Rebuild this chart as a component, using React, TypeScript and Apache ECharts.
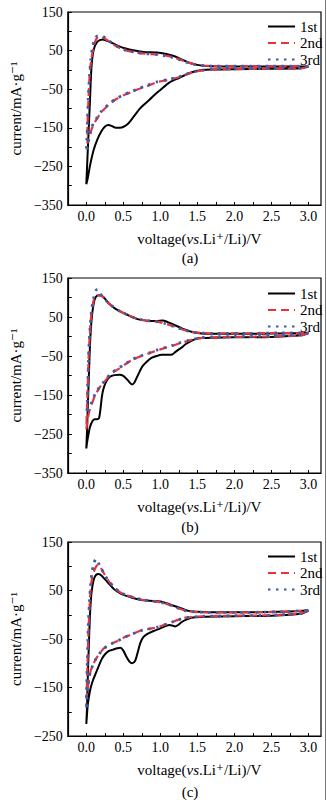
import React, { useEffect, useRef } from "react";
import * as echarts from "echarts";

const FONT = '"Liberation Serif", "Times New Roman", "DejaVu Serif", serif';

const seriesNames = ["1st", "2nd", "3rd"];
const xLabelValues = [0, 0.5, 1.0, 1.5, 2.0, 2.5, 3.0];
const xTickValues = [0, 0.25, 0.5, 0.75, 1.0, 1.25, 1.5, 1.75, 2.0, 2.25, 2.5, 2.75, 3.0];
const yLabelsAB = [-350, -250, -150, -50, 50, 150];
const yTicksAB = [-300, -250, -200, -150, -100, -50, 0, 50, 100];
const yLabelsC = [-250, -150, -50, 50, 150];
const yTicksC = [-200, -150, -100, -50, 0, 50, 100];
const subLabels = ["(a)", "(b)", "(c)"];

// Panel (a)
const cvA1 = [
  [3.0, 9], [2.9, 4], [2.5, 3], [2.0, 2], [1.7, 1], [1.55, -1], [1.45, -5], [1.35, -12], [1.25, -21],
  [1.12, -33], [1.0, -52], [0.92, -65], [0.85, -78], [0.73, -99], [0.64, -121], [0.56, -140], [0.48, -149],
  [0.40, -150], [0.34, -145], [0.30, -143], [0.25, -147], [0.20, -160], [0.15, -180], [0.10, -207],
  [0.05, -248], [0.02, -280], [0.0, -296],
  [0.015, -230], [0.03, -164], [0.05, -78], [0.07, 8], [0.10, 52], [0.15, 73], [0.22, 79], [0.30, 74],
  [0.40, 65], [0.52, 56], [0.65, 50], [0.8, 46], [0.95, 45], [1.08, 41], [1.18, 36], [1.28, 28], [1.4, 18],
  [1.5, 13], [1.62, 10], [1.8, 9], [2.2, 9], [2.6, 9], [3.0, 9],
];
const cvA2 = [
  [3.0, 9], [2.9, 4], [2.5, 3], [2.0, 2], [1.7, 1], [1.55, -2], [1.45, -6], [1.35, -12], [1.25, -19],
  [1.1, -26], [0.95, -32], [0.82, -42], [0.7, -50], [0.6, -58], [0.5, -66], [0.4, -76], [0.32, -88],
  [0.25, -100], [0.2, -110], [0.15, -125], [0.1, -140], [0.07, -155], [0.05, -168], [0.03, -182], [0.015, -190],
  [0.015, -150], [0.025, -100], [0.035, -50], [0.05, 0], [0.07, 30], [0.1, 60], [0.13, 78], [0.17, 87],
  [0.22, 84], [0.3, 75], [0.4, 62], [0.52, 51], [0.65, 46], [0.8, 42], [0.95, 40], [1.05, 38], [1.15, 34],
  [1.25, 28], [1.35, 21], [1.45, 15], [1.55, 12], [1.7, 10], [2.2, 10], [2.6, 10], [3.0, 9],
];
const cvA3 = [
  [3.0, 9], [2.9, 5], [2.5, 4], [2.0, 3], [1.7, 2], [1.55, -1], [1.45, -5], [1.35, -11], [1.25, -18],
  [1.1, -25], [0.95, -31], [0.82, -40], [0.7, -49], [0.6, -57], [0.5, -65], [0.4, -75], [0.32, -86],
  [0.25, -98], [0.2, -108], [0.15, -122], [0.1, -137], [0.07, -150], [0.05, -165], [0.03, -185], [0.01, -205],
  [0.0, -212],
  [0.01, -170], [0.02, -110], [0.03, -60], [0.045, -10], [0.06, 25], [0.08, 55], [0.11, 78], [0.15, 88],
  [0.2, 88], [0.25, 84], [0.3, 76], [0.4, 63], [0.52, 52], [0.65, 46], [0.8, 42], [0.95, 40], [1.05, 37],
  [1.15, 33], [1.25, 27], [1.35, 20], [1.45, 15], [1.55, 12], [1.7, 10], [2.2, 10], [2.6, 10], [3.0, 9],
];

// Panel (b)
const cvB1 = [
  [3.0, 9], [2.9, 3], [2.5, -1], [2.0, -2], [1.7, -3], [1.55, -4], [1.48, -6], [1.4, -13], [1.34, -20],
  [1.29, -28], [1.25, -33], [1.2, -40], [1.16, -46], [1.1, -47], [1.02, -47], [0.95, -50], [0.88, -55],
  [0.82, -64], [0.76, -76], [0.72, -90], [0.68, -106], [0.65, -118], [0.62, -123], [0.59, -119], [0.55, -110],
  [0.5, -101], [0.45, -98], [0.38, -99], [0.32, -103], [0.27, -115], [0.23, -135], [0.21, -155], [0.19, -188],
  [0.17, -210], [0.14, -212], [0.11, -212], [0.08, -218], [0.05, -232], [0.03, -250], [0.01, -272], [0.0, -287],
  [0.01, -240], [0.02, -180], [0.035, -100], [0.05, -20], [0.07, 40], [0.1, 85], [0.13, 102], [0.17, 106],
  [0.21, 104], [0.26, 95], [0.3, 85], [0.4, 70], [0.52, 59], [0.65, 47], [0.75, 42], [0.85, 40], [0.95, 40],
  [1.03, 41], [1.1, 37], [1.16, 32], [1.22, 27], [1.29, 21], [1.36, 16], [1.42, 12], [1.5, 9], [1.6, 7],
  [1.8, 7], [2.2, 7], [2.6, 8], [3.0, 9],
];
const cvB2 = [
  [3.0, 9], [2.9, 3], [2.5, 0], [2.0, -1], [1.7, -2], [1.55, -4], [1.45, -8], [1.38, -11], [1.25, -18],
  [1.16, -24], [1.05, -30], [0.95, -36], [0.85, -43], [0.73, -51], [0.62, -60], [0.52, -72], [0.42, -85],
  [0.33, -96], [0.27, -110], [0.22, -122], [0.19, -128], [0.15, -140], [0.12, -150], [0.09, -165],
  [0.06, -180], [0.04, -192], [0.02, -210], [0.0, -238],
  [0.01, -180], [0.02, -120], [0.03, -60], [0.045, 0], [0.06, 40], [0.08, 75], [0.11, 98], [0.15, 105],
  [0.19, 106], [0.23, 100], [0.28, 90], [0.35, 78], [0.45, 65], [0.55, 56], [0.65, 48], [0.75, 43],
  [0.85, 40], [0.95, 38], [1.05, 34], [1.15, 28], [1.25, 21], [1.35, 15], [1.45, 11], [1.55, 9], [1.7, 8],
  [2.2, 8], [2.6, 9], [3.0, 9],
];
const cvB3 = [
  [3.0, 9], [2.9, 4], [2.5, 1], [2.0, 0], [1.7, -1], [1.55, -3], [1.45, -7], [1.38, -10], [1.25, -17],
  [1.16, -23], [1.05, -29], [0.95, -35], [0.85, -42], [0.73, -50], [0.62, -59], [0.52, -71], [0.42, -83],
  [0.33, -95], [0.27, -108], [0.22, -120], [0.19, -127], [0.15, -138], [0.12, -148], [0.09, -160],
  [0.06, -175], [0.04, -185], [0.02, -195], [0.01, -198],
  [0.015, -150], [0.025, -90], [0.035, -30], [0.05, 20], [0.07, 65], [0.1, 100], [0.13, 118], [0.15, 121],
  [0.18, 112], [0.22, 102], [0.28, 90], [0.35, 78], [0.45, 65], [0.55, 56], [0.65, 48], [0.75, 43],
  [0.85, 40], [0.95, 38], [1.05, 34], [1.15, 28], [1.25, 21], [1.35, 15], [1.45, 11], [1.55, 9], [1.7, 8],
  [2.2, 8], [2.6, 9], [3.0, 9],
];

// Panel (c)
const cvC1 = [
  [3.0, 9], [2.9, 2], [2.5, -2], [2.0, -3], [1.6, -4], [1.48, -5], [1.42, -6], [1.35, -10], [1.29, -15],
  [1.24, -21], [1.2, -24], [1.16, -22], [1.12, -21], [1.08, -23], [1.0, -28], [0.9, -34], [0.82, -40],
  [0.77, -46], [0.73, -58], [0.69, -80], [0.66, -95], [0.62, -100], [0.58, -96], [0.54, -86], [0.5, -74],
  [0.46, -68], [0.42, -69], [0.36, -72], [0.3, -75], [0.25, -82], [0.21, -91], [0.17, -105], [0.13, -120],
  [0.09, -135], [0.06, -150], [0.04, -165], [0.02, -185], [0.005, -215], [0.0, -225],
  [0.01, -190], [0.02, -130], [0.035, -60], [0.05, 0], [0.07, 45], [0.1, 72], [0.13, 82], [0.17, 84],
  [0.21, 80], [0.26, 72], [0.3, 65], [0.38, 52], [0.46, 44], [0.52, 40], [0.62, 35], [0.73, 31], [0.85, 29],
  [0.95, 28], [1.02, 27], [1.08, 24], [1.15, 20], [1.25, 15], [1.32, 11], [1.38, 8], [1.5, 6], [1.7, 5],
  [2.2, 5], [2.6, 6], [3.0, 9],
];
const cvC2 = [
  [3.0, 9], [2.9, 3], [2.5, -1], [2.0, -2], [1.6, -3], [1.5, -4], [1.42, -5], [1.34, -6], [1.25, -10],
  [1.16, -15], [1.05, -21], [0.95, -26], [0.85, -29], [0.73, -33], [0.62, -40], [0.52, -46], [0.42, -54],
  [0.35, -59], [0.3, -63], [0.25, -68], [0.21, -74], [0.17, -82], [0.13, -91], [0.1, -100], [0.06, -115],
  [0.04, -130], [0.02, -150], [0.005, -170],
  [0.01, -130], [0.02, -80], [0.03, -30], [0.045, 20], [0.06, 55], [0.08, 78], [0.11, 92], [0.14, 101],
  [0.17, 103], [0.2, 96], [0.25, 82], [0.3, 70], [0.38, 56], [0.46, 46], [0.55, 40], [0.65, 35], [0.75, 31],
  [0.85, 29], [0.95, 27], [1.05, 24], [1.15, 19], [1.25, 13], [1.35, 8], [1.45, 6], [1.6, 5], [2.2, 5],
  [2.6, 6], [3.0, 9],
];
const cvC3 = [
  [3.0, 9], [2.9, 3], [2.5, -1], [2.0, -2], [1.6, -3], [1.5, -4], [1.42, -5], [1.34, -6], [1.25, -10],
  [1.16, -15], [1.05, -21], [0.95, -26], [0.85, -29], [0.73, -33], [0.62, -40], [0.52, -46], [0.42, -54],
  [0.35, -59], [0.3, -63], [0.25, -68], [0.21, -74], [0.17, -82], [0.13, -91], [0.1, -100], [0.06, -115],
  [0.04, -128], [0.02, -150], [0.01, -170], [0.0, -195],
  [0.005, -150], [0.015, -90], [0.025, -30], [0.04, 20], [0.055, 55], [0.075, 85], [0.1, 105], [0.13, 115],
  [0.16, 108], [0.2, 96], [0.25, 82], [0.3, 70], [0.38, 56], [0.46, 46], [0.55, 40], [0.65, 35], [0.75, 31],
  [0.85, 29], [0.95, 27], [1.05, 24], [1.15, 19], [1.25, 13], [1.35, 8], [1.45, 6], [1.6, 5], [2.2, 5],
  [2.6, 6], [3.0, 9],
];

const panelData = [
  [cvA1, cvA2, cvA3],
  [cvB1, cvB2, cvB3],
  [cvC1, cvC2, cvC3],
];
const panelYMin = [-350, -350, -250];
const panelYLabels = [yLabelsAB, yLabelsAB, yLabelsC];
const panelYTicks = [yTicksAB, yTicksAB, yTicksC];

// layout
const gridTops = [12, 278, 542];
const gridHeights = [193, 195, 194];
const legendTops = [14, 281, 544];
const subLabelY = [258, 527, 792];

const lineStyles = [
  { color: "#000000", width: 2, type: "solid" },
  { color: "#e5343a", width: 2.2, type: [8, 5] },
  { color: "#3d5cab", width: 2.8, type: [2.5, 5.5] },
];

export default function App() {
  const ref = useRef<HTMLDivElement>(null);
  useEffect(() => {
    document.body.style.margin = "0";
    const chart = echarts.init(ref.current!, null, { renderer: "svg" });
    const grid = gridTops.map((t, i) => ({
      left: 58,
      top: t,
      width: 263,
      height: gridHeights[i],
      show: true,
      borderColor: "#000",
      borderWidth: 1.2,
    }));
    const xAxis = gridTops.map((_, i) => ({
      type: "value",
      gridIndex: i,
      min: -0.25,
      max: 3.17,
      axisLine: { show: true, onZero: false, lineStyle: { color: "#000", width: 1.2 } },
      axisTick: {
        show: true,
        inside: true,
        length: 3,
        customValues: xTickValues,
        lineStyle: { color: "#000", width: 1 },
      },
      axisLabel: {
        customValues: xLabelValues,
        formatter: (v: number) => v.toFixed(1),
        margin: 4,
        color: "#000",
        fontFamily: FONT,
        fontSize: 14,
      },
      splitLine: { show: false },
      name: "{n|voltage(}{i|vs}{n|.Li⁺/Li)/V}",
      nameLocation: "middle",
      nameGap: 26,
      nameTextStyle: {
        padding: [0, 0, 0, 10],
        rich: {
          n: { fontFamily: FONT, fontSize: 15, color: "#000" },
          i: { fontFamily: FONT, fontSize: 15, color: "#000", fontStyle: "italic" },
        },
      },
    }));
    const yAxis = gridTops.map((_, i) => ({
      type: "value",
      gridIndex: i,
      min: panelYMin[i],
      max: 150,
      axisLine: { show: true, onZero: false, lineStyle: { color: "#000", width: 1.2 } },
      axisTick: {
        show: true,
        inside: true,
        length: 4,
        customValues: panelYTicks[i].concat(panelYLabels[i]),
        lineStyle: { color: "#000", width: 1 },
      },
      axisLabel: {
        customValues: panelYLabels[i],
        formatter: (v: number) => String(v).replace("-", "\u2212"),
        margin: 5,
        color: "#000",
        fontFamily: FONT,
        fontSize: 14,
      },
      splitLine: { show: false },
      name: "current/mA·g⁻¹",
      nameLocation: "middle",
      nameGap: 38,
      nameTextStyle: { fontFamily: FONT, fontSize: 15, color: "#000" },
    }));
    const series: any[] = [];
    panelData.forEach((group, i) => {
      group.forEach((data, j) => {
        series.push({
          type: "line",
          name: seriesNames[j],
          xAxisIndex: i,
          yAxisIndex: i,
          data,
          symbol: "none",
          showSymbol: false,
          smooth: 0.25,
          color: lineStyles[j].color,
          lineStyle: lineStyles[j],
          z: 2 + j,
        });
      });
    });
    const legend = legendTops.map((t) => ({
      orient: "vertical",
      left: 262,
      top: t,
      itemWidth: 27,
      itemHeight: 14,
      itemGap: 1.5,
      selectedMode: false,
      data: seriesNames,
      itemStyle: { opacity: 0 },
      textStyle: { fontFamily: FONT, fontSize: 15, color: "#000" },
    }));
    const graphic: any[] = subLabels.map((s, i) => ({
      type: "text",
      x: 190,
      y: subLabelY[i],
      style: {
        text: s,
        fontFamily: FONT,
        fontSize: 15,
        fill: "#000",
        align: "center",
        verticalAlign: "middle",
      },
    }));
    graphic.push({
      type: "line",
      shape: { x1: 325.5, y1: 0, x2: 325.5, y2: 800 },
      style: { stroke: "#777", lineWidth: 1 },
    });
    chart.setOption({
      animation: false,
      backgroundColor: "#fff",
      grid,
      xAxis,
      yAxis,
      series,
      legend,
      graphic,
    });
    return () => chart.dispose();
  }, []);
  return <div ref={ref} style={{ width: 327, height: 800 }} />;
}
